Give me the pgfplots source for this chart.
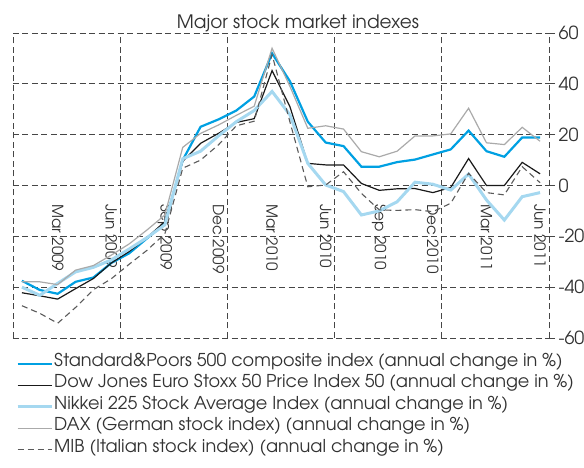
\documentclass[border=0pt]{standalone}
\usepackage{fontspec}
\setmainfont{TeX Gyre Adventor}
\usepackage{pgfplots}
\pgfplotsset{compat=1.18}
\usepackage{pgfplotstable}
\definecolor{spblue}{RGB}{0,160,226}
\definecolor{nkblue}{RGB}{165,216,240}
\definecolor{daxgray}{RGB}{170,170,170}
\definecolor{mibgray}{RGB}{90,90,90}
\definecolor{txt}{RGB}{50,50,50}
\definecolor{gridc}{RGB}{70,70,70}

\pgfplotstableread{
i sp dj nk dax mib
0 -37.5 -42.2 -40.0 -37.9 -47.3
1 -41.1 -43.4 -43.2 -37.9 -50.3
2 -42.6 -44.7 -38.5 -39.0 -54.2
3 -37.9 -40.6 -34.0 -33.3 -48.0
4 -36.2 -36.6 -32.2 -31.5 -41.0
5 -30.5 -30.5 -29.3 -27.4 -36.7
6 -26.7 -26.0 -25.0 -23.0 -31.0
7 -20.8 -20.5 -20.5 -17.5 -25.5
8 -14.9 -14.2 -15.5 -11.6 -19.0
9 10.0 9.5 10.5 15.0 6.8
10 23.1 16.6 13.5 20.5 10.0
11 26.0 20.5 19.5 23.8 16.0
12 29.5 24.8 25.1 27.6 23.5
13 35.0 26.3 29.5 31.2 25.3
14 52.0 45.2 37.0 54.0 51.5
15 41.0 31.0 27.8 39.0 25.0
16 25.1 8.7 8.7 22.5 -0.5
17 16.9 8.1 0.2 23.5 0.2
18 15.5 8.1 -2.4 22.2 5.4
19 7.4 0.8 -11.6 13.3 -3.1
20 7.4 -1.9 -10.0 11.3 -9.6
21 9.2 -1.3 -6.4 13.5 -9.8
22 10.2 -1.2 1.3 19.5 -9.5
23 12.2 -2.8 0.5 19.5 -10.3
24 14.2 -0.8 -1.8 20.3 -7.0
25 21.6 10.6 4.5 30.4 4.8
26 13.5 0.0 -5.7 16.8 -2.8
27 11.3 0.0 -13.6 16.1 -3.7
28 18.9 9.1 -4.4 22.9 7.4
29 18.9 4.6 -2.8 17.4 1.1
}\data

\begin{document}
\begin{tikzpicture}[x=1pt,y=1pt]
\path[use as bounding box] (0,0) rectangle (584,468);
\begin{axis}[
  at={(13pt,130pt)}, anchor=south west,
  scale only axis, width=536pt, height=305pt,
  xmin=-0.5, xmax=29.5, ymin=-60, ymax=60,
  axis line style={draw=none},
  xtick={2,5,...,29},
  xticklabels={Mar 2009,Jun 2009,Sep 2009,Dec 2009,Mar 2010,Jun 2010,Sep 2010,Dec 2010,Mar 2011,Jun 2011},
  xtick style={draw=none},
  xticklabel style={rotate=-90, anchor=west, inner sep=0pt, font=\fontsize{15.3}{15.3}\selectfont, text=txt},
  xticklabel shift=-140pt,
  extra x ticks={-0.5,5.5,11.5,17.5,23.5,29.5},
  extra x tick labels={},
  extra x tick style={grid=major, major tick length=0pt},
  ytick={-60,-40,...,60},
  yticklabels={-60,-40,-20,0,20,40,60},
  ytick pos=right, yticklabel pos=right,
  tick align=outside, major tick length=6pt,
  ytick style={draw=gridc, line width=0.8pt, solid},
  yticklabel style={anchor=west, font=\fontsize{18}{18}\selectfont, text=txt},
  ymajorgrids,
  grid style={gridc, line width=0.9pt, dash pattern=on 6pt off 3.5pt},
  legend style={at={(axis description cs:0,0)}, anchor=north west, xshift=3pt, yshift=-15pt,
    draw=none, fill=none, inner sep=0pt, row sep=0pt, column sep=1pt,
    font=\fontsize{17.7}{17.7}\selectfont, text=txt,
    nodes={inner sep=0pt, text height=13pt, text depth=8.5pt, anchor=west}},
  legend cell align=left,
  legend image code/.code={\draw[#1] (0pt,0pt) -- (34pt,0pt);},
]
\addplot[spblue, line width=2.2pt] table[x=i,y=sp] {\data};
\addlegendentry{Standard\&Poors 500 composite index (annual change in \%)}
\addplot[black!90, line width=1.2pt] table[x=i,y=dj] {\data};
\addlegendentry{Dow Jones Euro Stoxx 50 Price Index 50 (annual change in \%)}
\addplot[nkblue, line width=3pt] table[x=i,y=nk] {\data};
\addlegendentry{Nikkei 225 Stock Average Index (annual change in \%)}
\addplot[daxgray, line width=1.2pt] table[x=i,y=dax] {\data};
\addlegendentry{DAX (German stock index) (annual change in \%)}
\addplot[mibgray, line width=1.1pt, dash pattern=on 6pt off 4pt] table[x=i,y=mib] {\data};
\addlegendentry{MIB (Italian stock index) (annual change in \%)}
\end{axis}
\node[anchor=base, font=\fontsize{18.5}{18.5}\selectfont, text=txt] at (298,439.7) {Major stock market indexes};
\end{tikzpicture}
\end{document}
